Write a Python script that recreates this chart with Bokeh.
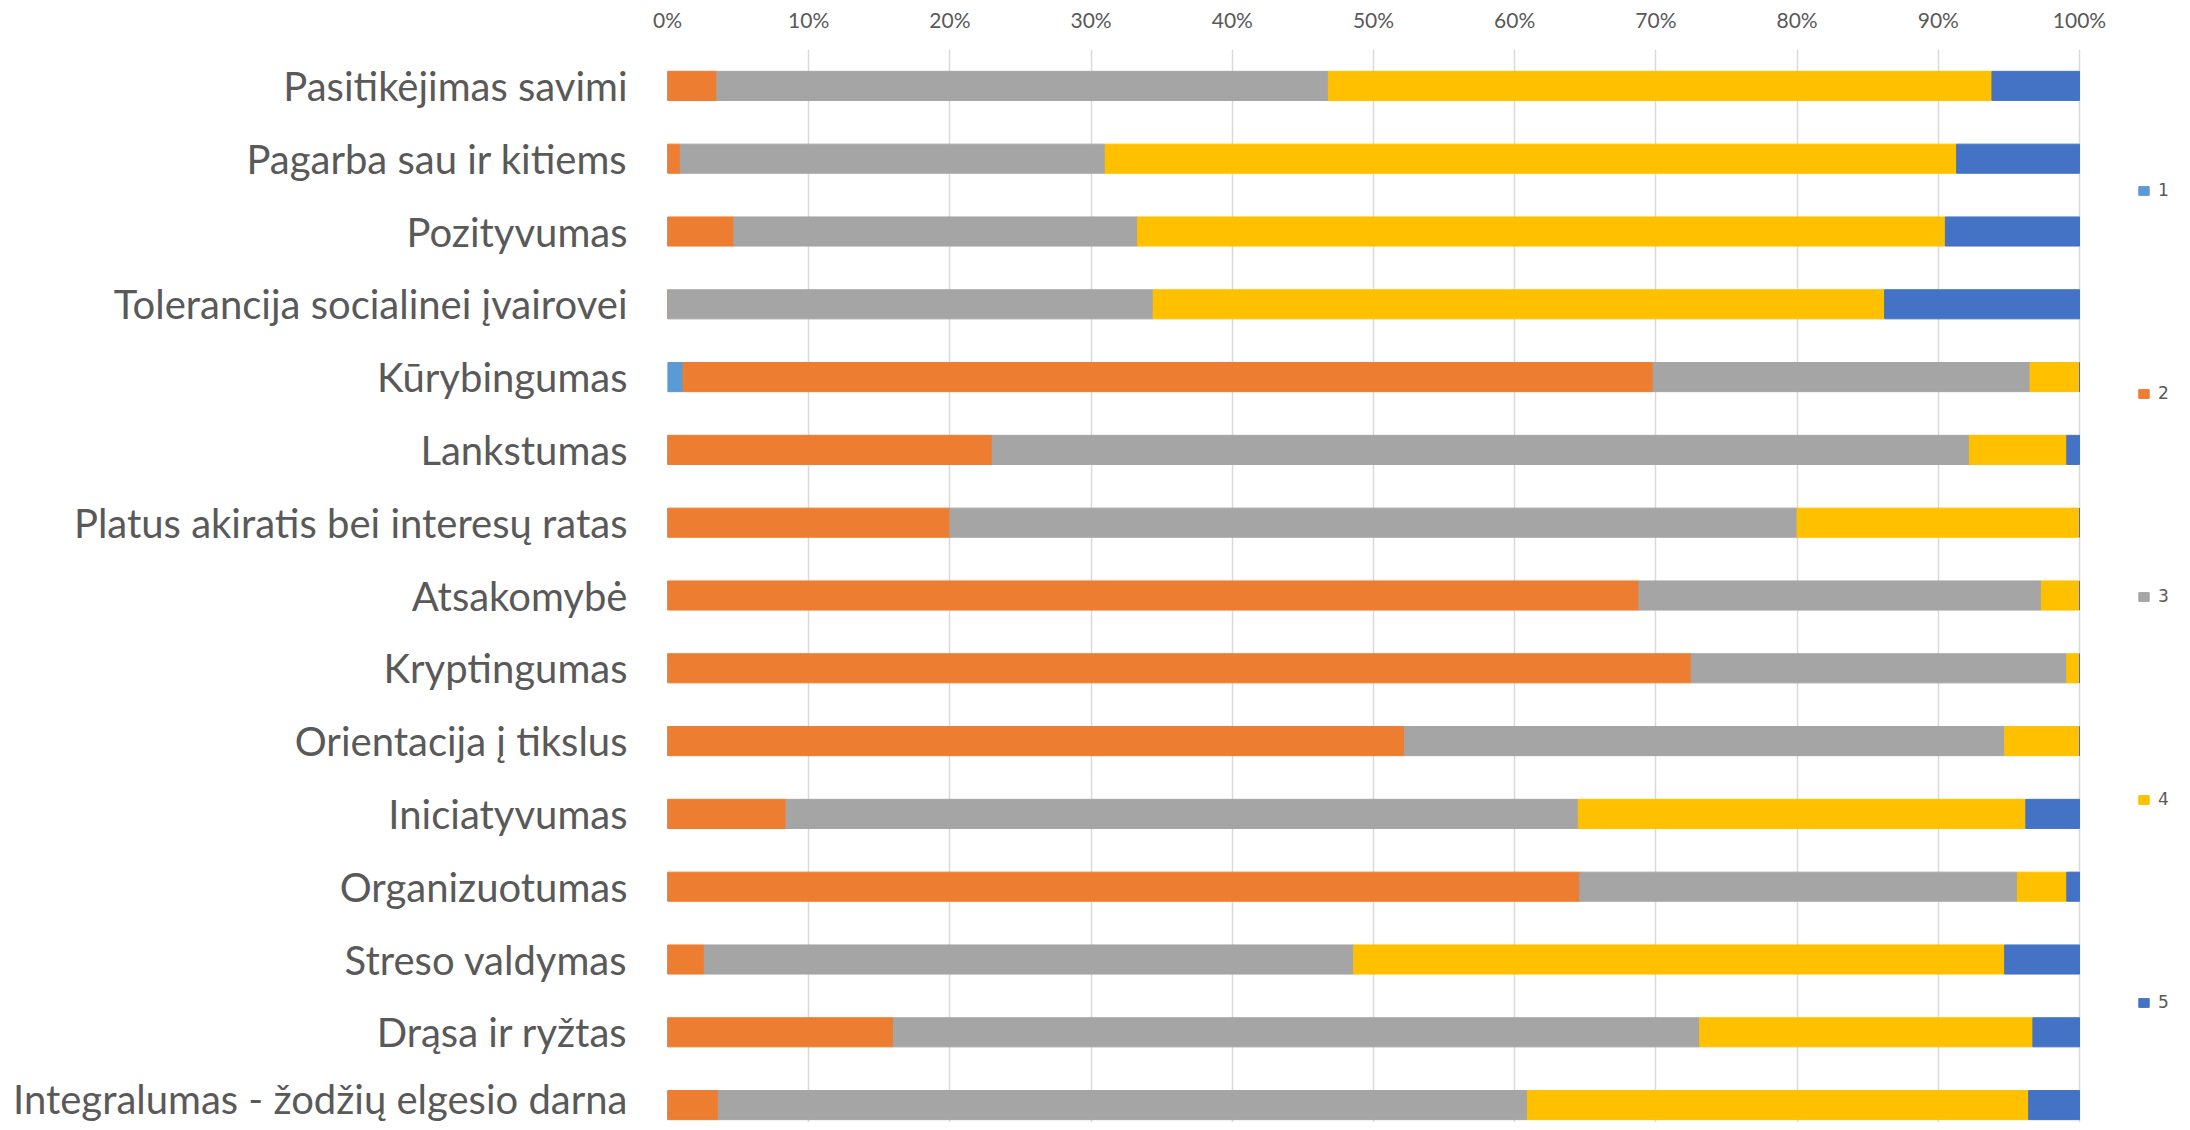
from bokeh.plotting import figure
from bokeh.models import (ColumnDataSource, Range1d, FixedTicker, NumeralTickFormatter,
                          Legend, LegendItem)
from bokeh.embed import file_html
from bokeh.resources import INLINE

categories = [
    "Pasitikėjimas savimi",
    "Pagarba sau ir kitiems",
    "Pozityvumas",
    "Tolerancija socialinei įvairovei",
    "Kūrybingumas",
    "Lankstumas",
    "Platus akiratis bei interesų ratas",
    "Atsakomybė",
    "Kryptingumas",
    "Orientacija į tikslus",
    "Iniciatyvumas",
    "Organizuotumas",
    "Streso valdymas",
    "Drąsa ir ryžtas",
    "Integralumas - žodžių elgesio darna",
]

# percentage shares for answers 1..5
s1 = [0, 0, 0, 0, 1.1, 0, 0, 0, 0, 0, 0, 0, 0, 0, 0]
s2 = [3.5, 0.9, 4.7, 0, 68.7, 23.0, 20.0, 68.8, 72.5, 52.2, 8.4, 64.6, 2.6, 16.0, 3.6]
s3 = [43.3, 30.1, 28.6, 34.4, 26.7, 69.2, 60.0, 28.5, 26.6, 42.5, 56.1, 31.0, 46.0, 57.1, 57.3]
s4 = [47.0, 60.3, 57.2, 51.8, 3.5, 6.9, 20.0, 2.7, 0.9, 5.3, 31.7, 3.5, 46.1, 23.6, 35.5]
s5 = [6.2, 8.7, 9.5, 13.8, 0, 0.9, 0, 0, 0, 0, 3.8, 0.9, 5.3, 3.3, 3.6]

series_names = ["1", "2", "3", "4", "5"]
colors = ["#5B9BD5", "#ED7D31", "#A5A5A5", "#FFC000", "#4472C4"]
x_ticks = [0, 10, 20, 30, 40, 50, 60, 70, 80, 90, 100]

n = len(categories)
ypos = [n - i for i in range(n)]
series = [s1, s2, s3, s4, s5]
keys = ["s1", "s2", "s3", "s4", "s5"]
data = {"y": ypos}
for k, s in zip(keys, series):
    data[k] = [v / 100.0 for v in s]
source = ColumnDataSource(data)

W, H = 2182, 1122
left, top = 667, 49
px_per_unit = 1412.0          # width of the 0..100% span in pixels
x_end = (W - left) / px_per_unit  # frame extends past 100% to host the legend

p = figure(width=W, height=H, output_backend="svg", toolbar_location=None,
           x_range=Range1d(0, x_end), y_range=Range1d(0.761, 15.5),
           x_axis_location="above",
           min_border_left=left, min_border_right=0, min_border_top=top, min_border_bottom=0)

renderers = p.hbar_stack(keys, y="y", height=0.4, color=colors, source=source)

xa = p.xaxis[0]
xa.ticker = FixedTicker(ticks=[t / 100.0 for t in x_ticks])
xa.formatter = NumeralTickFormatter(format="0%")
xa.axis_line_color = None
xa.major_tick_line_color = None
xa.minor_tick_line_color = None
xa.major_label_text_font = "Lato"
xa.major_label_text_font_size = "21px"
xa.major_label_text_color = "#595959"
xa.major_label_standoff = 12

ya = p.yaxis[0]
ya.ticker = FixedTicker(ticks=ypos)
ya.major_label_overrides = {y: c for y, c in zip(ypos, categories)}
ya.axis_line_color = None
ya.major_tick_line_color = None
ya.minor_tick_line_color = None
ya.major_label_text_font = "Lato"
ya.major_label_text_font_size = "40px"
ya.major_label_text_color = "#595959"
ya.major_label_standoff = 34

p.xgrid.grid_line_color = "#d9d9d9"
p.xgrid.grid_line_width = 1.5
p.ygrid.grid_line_color = None
p.outline_line_color = None

legend = Legend(
    items=[LegendItem(label=nm, renderers=[r]) for nm, r in zip(series_names, renderers)],
    location=(1470, 110), orientation="vertical", spacing=183,
    glyph_width=13, glyph_height=11, label_height=20, label_standoff=8,
    label_text_font="DejaVu Sans", label_text_font_size="17px", label_text_color="#595959",
    border_line_color=None, background_fill_alpha=0, padding=0, margin=0)
p.add_layout(legend, "center")

open("out.html", "w").write(file_html(p, INLINE))
